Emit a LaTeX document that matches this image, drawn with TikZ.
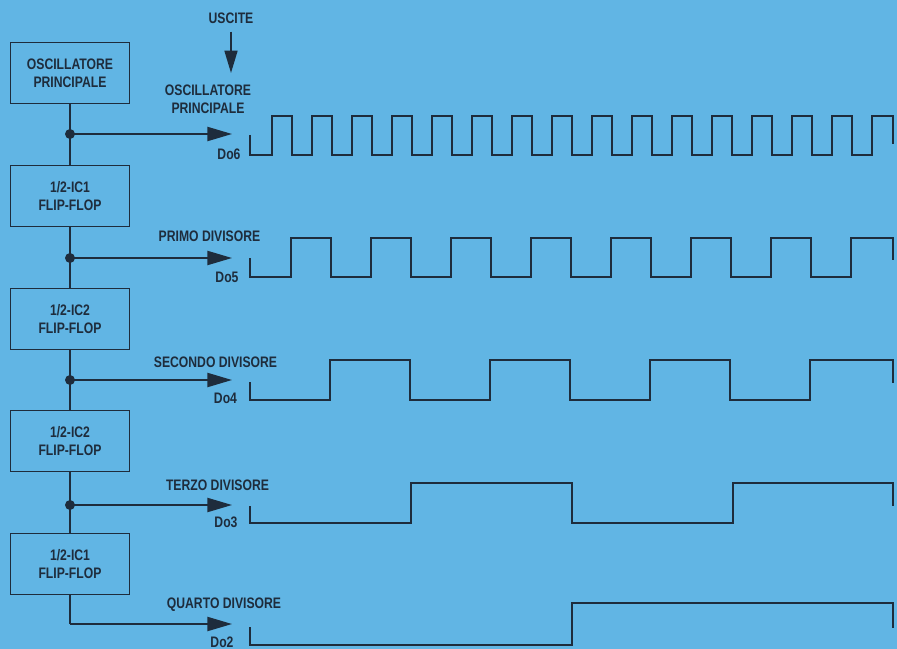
\documentclass[tikz,border=0pt]{standalone}
\usepackage{fontspec}
\setmainfont{Liberation Sans}[FakeStretch=0.8]
\usepackage{tikz}
\usetikzlibrary{arrows.meta, calc}
\definecolor{sky}{RGB}{97,181,228}
\definecolor{ink}{RGB}{30,44,60}
\newcommand{\lblfont}{\bfseries\fontsize{13}{15.5}\selectfont}
\tikzset{
  blk/.style={draw=ink, line width=1.6pt, minimum width=3.57cm, minimum height=1.83cm,
    align=center, text=ink, font=\lblfont, inner sep=0pt},
  wave/.style={draw=ink, line width=1.6pt, line join=miter},
  feed/.style={draw=ink, line width=1.6pt, -{Triangle[length=21pt,width=12pt]}},
  tag/.style={text=ink, font=\lblfont, inner sep=0pt, align=center},
  junc/.style={circle, fill=ink, inner sep=0pt, minimum size=8.5pt}
}
\begin{document}
\begin{tikzpicture}[x=0.03cm, y=-0.03cm]
  \fill[sky] (0,0) rectangle (897,649);
  \useasboundingbox (0,0) rectangle (897,649);
  % blocchi
  \node[blk] (osc) at (70,73) {OSCILLATORE\\PRINCIPALE};
  \node[blk] (ffa) at (70,196) {1/2-IC1\\FLIP-FLOP};
  \node[blk] (ffb) at (70,319) {1/2-IC2\\FLIP-FLOP};
  \node[blk] (ffc) at (70,441) {1/2-IC2\\FLIP-FLOP};
  \node[blk] (ffd) at (70,564) {1/2-IC1\\FLIP-FLOP};
  \node[junc] (ja) at (70,134) {};
  \node[junc] (jb) at (70,258) {};
  \node[junc] (jc) at (70,380) {};
  \node[junc] (jd) at (70,505) {};
  \coordinate (je) at (70,624);
  \coordinate (ta) at (232,134);
  \coordinate (tb) at (232,258);
  \coordinate (tc) at (232,380);
  \coordinate (td) at (232,505);
  \coordinate (te) at (232,624);
  \draw[wave] (osc) -- (ffa) -- (ffb) -- (ffc) -- (ffd);
  \draw[wave] (ffd.south) -- (je);
  \draw[feed] (ja.center) -- (ta);
  \draw[feed] (jb.center) -- (tb);
  \draw[feed] (jc.center) -- (tc);
  \draw[feed] (jd.center) -- (td);
  \draw[feed] (je) -- (te);
  % uscite
  \node[tag] (usc) at (231,18) {USCITE};
  \coordinate (usd) at (231,73);
  \draw[feed, -{Triangle[length=19pt,width=11pt]}] ($(usc.south)+(0,8)$) -- (usd);
  \node[tag] (la) at (208,99.5) {OSCILLATORE\\PRINCIPALE};
  \node[tag] (lb) at (209.5,236) {PRIMO DIVISORE};
  \node[tag] (lc) at (215.5,362) {SECONDO DIVISORE};
  \node[tag] (ld) at (217.5,485) {TERZO DIVISORE};
  \node[tag] (le) at (224,605) {QUARTO DIVISORE};
  \node[tag] (da) at (229,154) {Do6};
  \node[tag] (db) at (227,277) {Do5};
  \node[tag] (dc) at (225.5,398) {Do4};
  \node[tag] (dd) at (226,522) {Do3};
  \node[tag] (de) at (222,642) {Do2};
  % forme d'onda
  \draw[wave] (250,135) |- (272,155)
    \foreach \i in {1,...,15} {-- ++(0,-39) -- ++(20,0) -- ++(0,39) -- ++(20,0)}
    -- ++(0,-39) -- ++(21,0) -- ++(0,28);
  \draw[wave] (250,258) |- (291,277)
    \foreach \i in {1,...,7} {-- ++(0,-39) -- ++(40,0) -- ++(0,39) -- ++(40,0)}
    -- ++(0,-39) -- ++(42,0) -- ++(0,22);
  \draw[wave] (250,382) |- (330,400)
    \foreach \i in {1,...,3} {-- ++(0,-40) -- ++(80,0) -- ++(0,40) -- ++(80,0)}
    -- ++(0,-40) -- ++(83,0) -- ++(0,23);
  \draw[wave] (250,506) |- (411,523)
    -- ++(0,-40) -- ++(161,0) -- ++(0,40) -- ++(161,0)
    -- ++(0,-40) -- ++(160,0) -- ++(0,23);
  \draw[wave] (250,627) |- (572,645) -- ++(0,-42) -- ++(321,0) -- ++(0,25);
\end{tikzpicture}
\end{document}
